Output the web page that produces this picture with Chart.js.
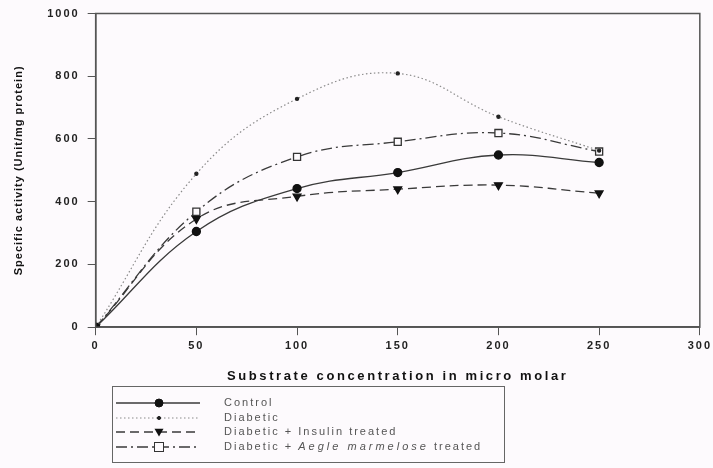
<!DOCTYPE html>
<html>
<head>
<meta charset="utf-8">
<script src="https://cdn.jsdelivr.net/npm/chart.js@4.4.1/dist/chart.umd.min.js"></script>
<style>
  html, body { margin: 0; padding: 0; background: #fdfafd; }
  #wrap { width: 713px; height: 468px; position: relative; }
</style>
</head>
<body>
<div id="wrap"><canvas id="chart" width="713" height="468"></canvas></div>
<script>
// Datos
const concentraciones = [0, 50, 100, 150, 200, 250];
const control = [0, 305, 442, 493, 549, 525];
const diabetico = [0, 489, 728, 809, 671, 563];
const insulina = [0, 345, 417, 440, 453, 427];
const aegle = [0, 368, 543, 591, 619, 560];

const ticksX = [0, 50, 100, 150, 200, 250, 300];
const ticksY = [0, 200, 400, 600, 800, 1000];

const etiquetas = ["Control", "Diabetic", "Diabetic + Insulin treated", "Diabetic + Aegle marmelose treated"];

function puntos(valores) {
    return concentraciones.map((x, i) => ({ x: x, y: valores[i] }));
}

const gris = "#3a3a3a";
const fuente = "Liberation Sans, Arial, sans-serif";

// Envuelve un metodo de dibujo de la escala para cambiar el espaciado de letras
function conEspaciado(escala, metodo, valor) {
    const original = escala[metodo].bind(escala);
    escala[metodo] = function (...args) {
        const c = this.ctx;
        c.save();
        c.letterSpacing = valor;
        original(...args);
        c.restore();
    };
}

// Espaciado de letras como en el original
const espaciado = {
    id: "espaciado",
    beforeDraw(chart) {
        chart.ctx.letterSpacing = "2px";
        const x = chart.scales.x;
        const y = chart.scales.y;
        if (!x._espaciado) {
            conEspaciado(x, "drawTitle", "2.6px");
            x._espaciado = true;
        }
        if (!y._espaciado) {
            conEspaciado(y, "drawTitle", "1px");
            y._espaciado = true;
        }
    }
};

// Marco del area del grafico y leyenda con muestras de linea
const marcoYLeyenda = {
    id: "marcoYLeyenda",
    afterDraw(chart) {
        const ctx = chart.ctx;
        const a = chart.chartArea;
        ctx.save();
        ctx.strokeStyle = "#555";
        ctx.lineWidth = 1.5;
        ctx.strokeRect(a.left, a.top, a.right - a.left, a.bottom - a.top);

        // caja de la leyenda
        ctx.lineWidth = 1;
        ctx.strokeStyle = "#666";
        ctx.strokeRect(112.5, 386.5, 392, 76);

        const filas = [403, 418, 432, 447];
        chart.data.datasets.forEach((ds, i) => {
            const y = filas[i];
            ctx.save();
            ctx.strokeStyle = ds.borderColor;
            ctx.lineWidth = ds.borderWidth;
            ctx.setLineDash(ds.borderDash || []);
            ctx.beginPath();
            ctx.moveTo(116, y);
            ctx.lineTo(200, y);
            ctx.stroke();
            ctx.restore();

            // marcador
            ctx.save();
            ctx.setLineDash([]);
            ctx.fillStyle = ds.pointBackgroundColor;
            ctx.strokeStyle = ds.pointBorderColor;
            ctx.lineWidth = 1;
            const r = ds.pointRadius;
            if (ds.pointStyle === "circle") {
                ctx.beginPath();
                ctx.arc(159, y, r, 0, Math.PI * 2);
                ctx.fill();
                ctx.stroke();
            } else if (ds.pointStyle === "triangle") {
                ctx.beginPath();
                ctx.moveTo(159 - r, y - r * 0.7);
                ctx.lineTo(159 + r, y - r * 0.7);
                ctx.lineTo(159, y + r);
                ctx.closePath();
                ctx.fill();
            } else {
                ctx.fillRect(159 - r, y - r, r * 2, r * 2);
                ctx.strokeRect(159 - r + 0.5, y - r + 0.5, r * 2 - 1, r * 2 - 1);
            }
            ctx.restore();

            // texto
            ctx.fillStyle = "#555";
            ctx.textBaseline = "middle";
            ctx.letterSpacing = "2px";
            ctx.font = "11px " + fuente;
            if (i === 3) {
                let x = 224;
                const partes = [["Diabetic + ", "", "2px"], ["Aegle marmelose", "italic ", "3px"], [" treated", "", "2px"]];
                partes.forEach(p => {
                    ctx.font = p[1] + "11px " + fuente;
                    ctx.letterSpacing = p[2];
                    ctx.fillText(p[0], x, y);
                    x += ctx.measureText(p[0]).width;
                });
            } else {
                ctx.fillText(etiquetas[i], 224, y);
            }
        });
        ctx.restore();
    }
};

new Chart(document.getElementById("chart"), {
    type: "line",
    data: {
        datasets: [
            {
                label: etiquetas[0],
                data: puntos(control),
                borderColor: gris,
                borderWidth: 1.3,
                pointStyle: "circle",
                pointRadius: 4,
                pointBackgroundColor: "#111",
                pointBorderColor: "#111"
            },
            {
                label: etiquetas[1],
                data: puntos(diabetico),
                borderColor: "#8a8a8a",
                borderWidth: 1.2,
                borderDash: [1.5, 2.5],
                pointStyle: "circle",
                pointRadius: 1.6,
                pointBackgroundColor: "#222",
                pointBorderColor: "#222"
            },
            {
                label: etiquetas[2],
                data: puntos(insulina),
                borderColor: gris,
                borderWidth: 1.3,
                borderDash: [9, 5],
                pointStyle: "triangle",
                rotation: 180,
                pointRadius: 4.5,
                pointBackgroundColor: "#111",
                pointBorderColor: "#111"
            },
            {
                label: etiquetas[3],
                data: puntos(aegle),
                borderColor: gris,
                borderWidth: 1.3,
                borderDash: [11, 4, 2, 4],
                pointStyle: "rect",
                pointRadius: 5,
                pointBackgroundColor: "#fdfafd",
                pointBorderColor: "#333"
            }
        ]
    },
    options: {
        responsive: false,
        animation: false,
        layout: { padding: { top: 0, right: 8, bottom: 84, left: 12 } },
        elements: { line: { tension: 0.4, cubicInterpolationMode: "default" } },
        plugins: {
            legend: { display: false },
            tooltip: { enabled: false }
        },
        scales: {
            x: {
                type: "linear",
                min: 0,
                max: 300,
                afterBuildTicks: (s) => { s.ticks = ticksX.map(v => ({ value: v })); },
                ticks: { color: "#222", font: { family: fuente, size: 11, weight: "bold" }, padding: 4 },
                grid: { display: true, drawOnChartArea: false, drawTicks: true, tickLength: 8, color: "#555" },
                border: { display: true, color: "#555", width: 1.5 },
                title: {
                    display: true,
                    text: "Substrate concentration in micro molar",
                    color: "#111",
                    font: { family: fuente, size: 13, weight: "bold" },
                    padding: { top: 12, bottom: 0 }
                }
            },
            y: {
                min: 0,
                max: 1000,
                afterBuildTicks: (s) => { s.ticks = ticksY.map(v => ({ value: v })); },
                ticks: {
                    color: "#222",
                    font: { family: fuente, size: 11, weight: "bold", lineHeight: 1 },
                    padding: 8,
                    callback: (v) => String(v)
                },
                grid: { display: true, drawOnChartArea: false, drawTicks: true, tickLength: 8, color: "#555" },
                border: { display: true, color: "#555", width: 1.5 },
                title: {
                    display: true,
                    text: "Specific activity (Unit/mg protein)",
                    color: "#111",
                    font: { family: fuente, size: 11, weight: "bold" },
                    padding: { top: 0, bottom: 22 }
                }
            }
        }
    },
    plugins: [espaciado, marcoYLeyenda]
});
</script>
</body>
</html>
